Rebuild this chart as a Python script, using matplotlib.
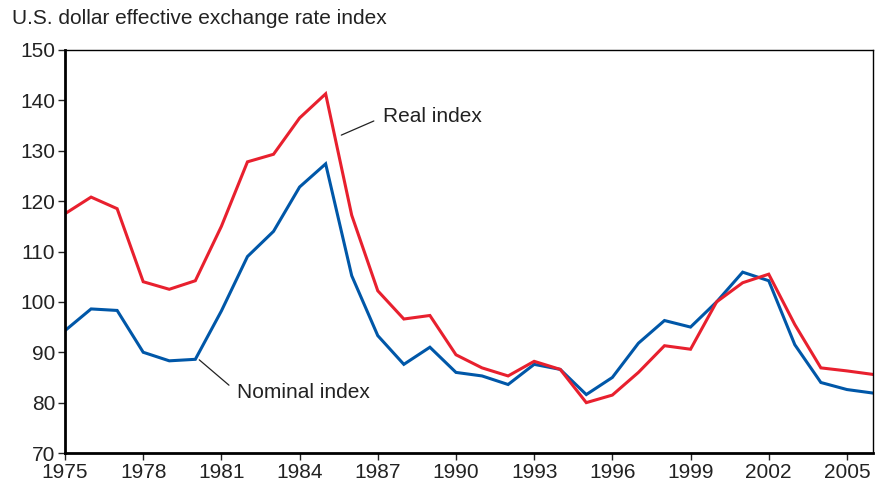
import matplotlib.pyplot as plt

plt.rcParams['font.family'] = ['Liberation Sans', 'DejaVu Sans']

years = list(range(1975, 2007))
real = [117.5, 120.8, 118.5, 104.0, 102.5, 104.2, 115.0, 127.8, 129.3, 136.5,
        141.3, 117.2, 102.2, 96.6, 97.3, 89.5, 86.9, 85.3, 88.2, 86.6,
        80.0, 81.5, 86.0, 91.3, 90.6, 100.0, 103.8, 105.5, 95.5, 86.9,
        86.3, 85.6]
nominal = [94.3, 98.6, 98.3, 90.0, 88.3, 88.6, 98.2, 109.0, 114.0, 122.8,
           127.4, 105.2, 93.3, 87.6, 91.0, 86.0, 85.3, 83.6, 87.6, 86.6,
           81.6, 85.0, 91.8, 96.3, 95.0, 100.0, 105.9, 104.2, 91.5, 84.0,
           82.6, 81.9]
xticks = list(range(1975, 2006, 3))
yticks = list(range(70, 151, 10))

fig = plt.figure(figsize=(8.75, 4.93), dpi=100)
ax = fig.add_axes([0.0743, 0.0811, 0.9234, 0.8175])

ax.plot(years, nominal, color='#0057A8', lw=2.2, solid_joinstyle='miter')
ax.plot(years, real, color='#E8202E', lw=2.2, solid_joinstyle='miter')

ax.set_xlim(1975, 2006)
ax.set_ylim(70, 150)
ax.set_xticks(xticks)
ax.set_yticks(yticks)
ax.tick_params(labelsize=15, length=5, width=1, pad=2,
               color='#222222', labelcolor='#222222')

for s in ['left', 'bottom']:
    ax.spines[s].set_linewidth(2)
for s in ['top', 'right']:
    ax.spines[s].set_linewidth(1)

ax.annotate('Real index', xy=(1985.6, 133.1), xytext=(1987.2, 136.7),
            fontsize=15, color='#222222', va='center', ha='left',
            arrowprops=dict(arrowstyle='-', color='#222222', lw=0.9,
                            relpos=(0, 0.5), shrinkA=5, shrinkB=0))
ax.annotate('Nominal index', xy=(1980.15, 88.5), xytext=(1981.6, 82.1),
            fontsize=15, color='#222222', va='center', ha='left',
            arrowprops=dict(arrowstyle='-', color='#222222', lw=0.9,
                            relpos=(0, 0.5), shrinkA=5, shrinkB=0))

fig.text(0.0137, 0.963, 'U.S. dollar effective exchange rate index',
         fontsize=15, color='#222222', va='center', ha='left')

fig.savefig('out.png', dpi=100)
